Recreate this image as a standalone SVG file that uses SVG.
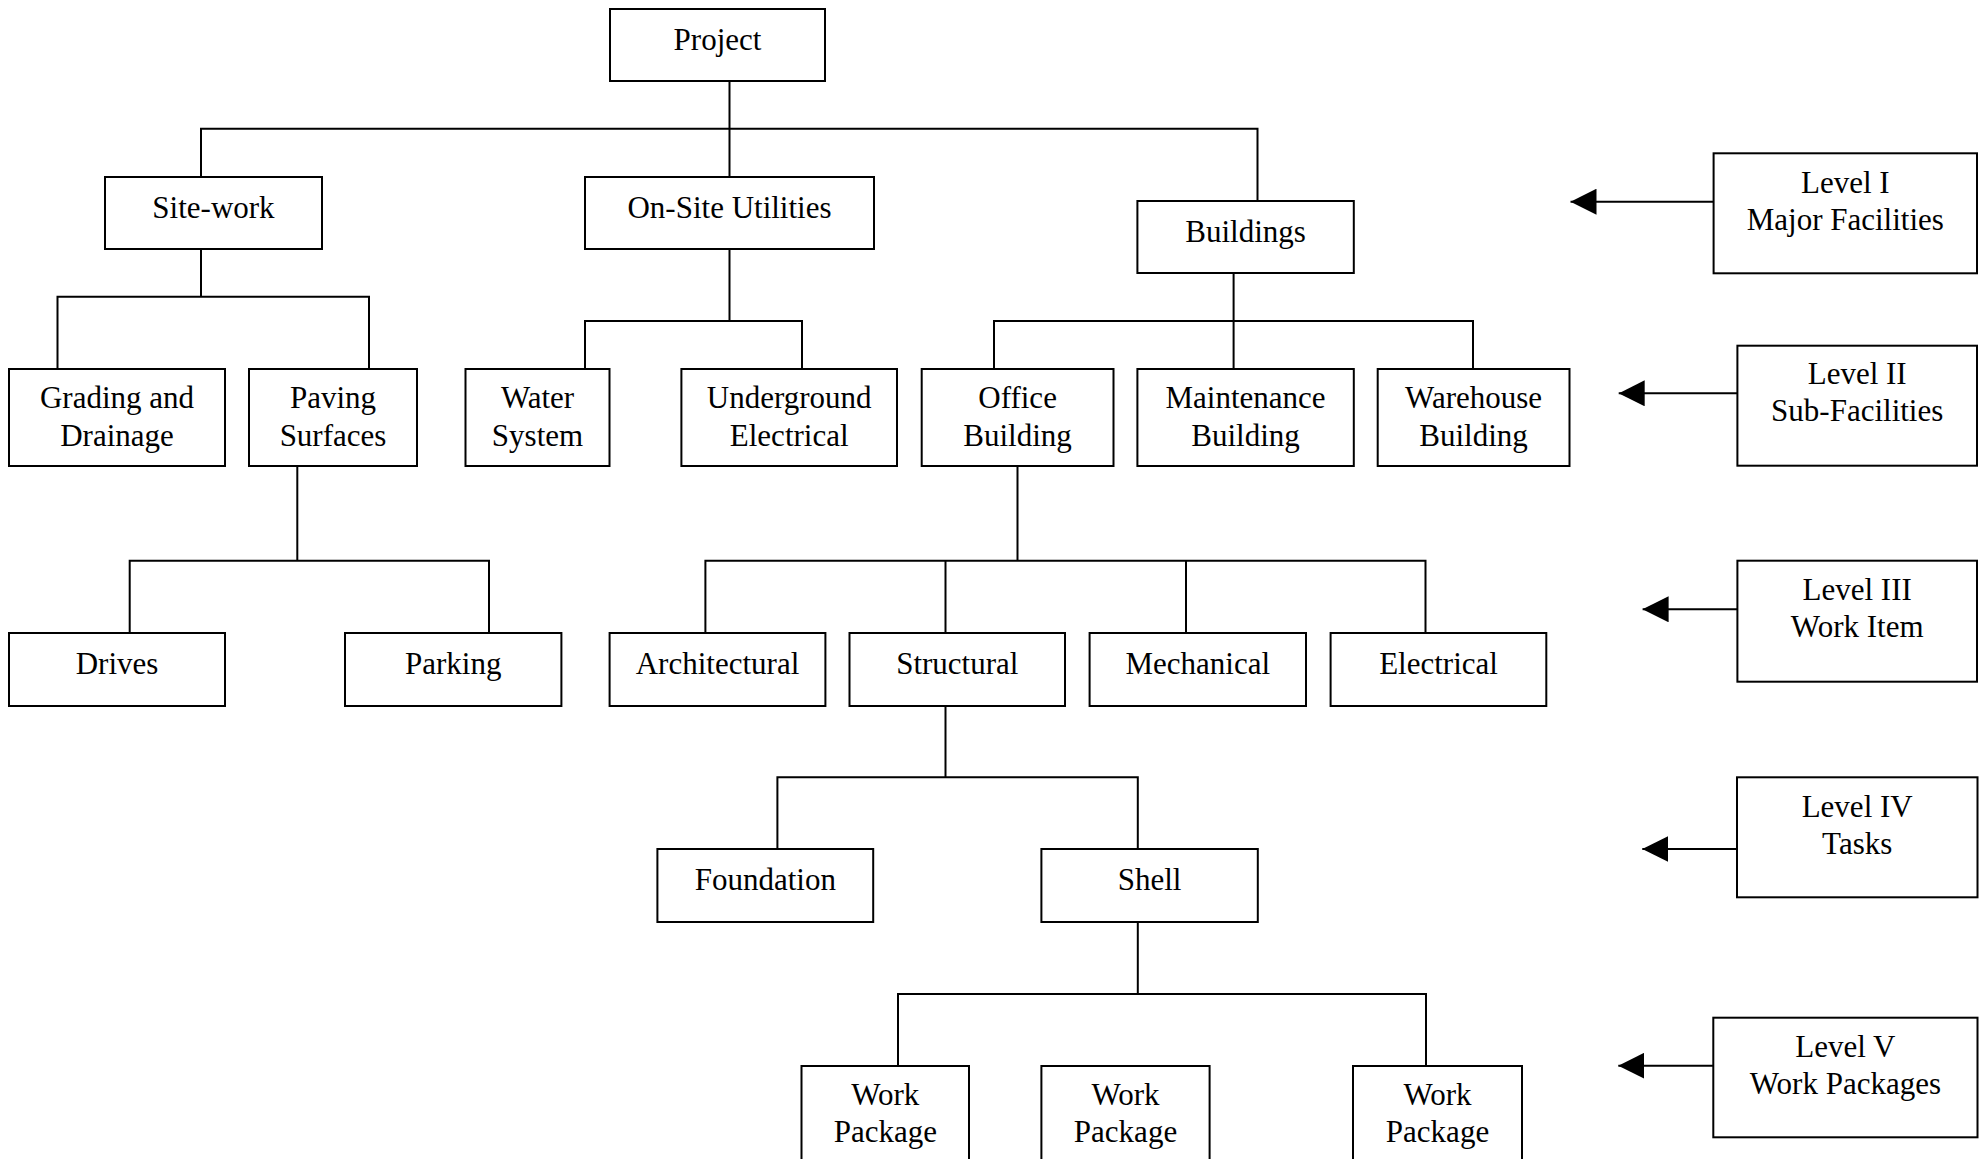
<svg xmlns="http://www.w3.org/2000/svg" width="1985" height="1159" viewBox="0 0 1985 1159">
<style>
.box{fill:#fff;stroke:#000;stroke-width:2}
.t{font-family:"Liberation Serif","Times New Roman",serif;font-size:31px;fill:#000;text-anchor:middle}
.c{fill:none;stroke:#000;stroke-width:2}
</style>
<defs>
<marker id="ah" markerUnits="userSpaceOnUse" markerWidth="26" markerHeight="26" viewBox="0 0 26 26" refX="26" refY="13" orient="auto">
<path d="M0,0 L26,13 L0,26 z" fill="#000"/>
</marker>
</defs>
<rect width="1985" height="1159" fill="#fff"/>
<g id="connectors">
<path class="c" d="M729.5,81 V177"/>
<path class="c" d="M201,177 V128.7 H1257.5 V201"/>
<path class="c" d="M201,249 V296.7"/>
<path class="c" d="M57.5,369 V296.7 H369 V369"/>
<path class="c" d="M729.5,249 V321"/>
<path class="c" d="M585,369 V321 H802 V369"/>
<path class="c" d="M1233.6,273 V369"/>
<path class="c" d="M994,369 V321 H1473 V369"/>
<path class="c" d="M297.3,466 V560.7"/>
<path class="c" d="M129.7,633 V560.7 H489 V633"/>
<path class="c" d="M1017.5,466 V560.7"/>
<path class="c" d="M705.4,633 V560.7 H1425.5 V633"/>
<path class="c" d="M945.5,560.7 V633"/>
<path class="c" d="M1186,560.7 V633"/>
<path class="c" d="M945.5,706 V777.3"/>
<path class="c" d="M777.4,849 V777.3 H1137.8 V849"/>
<path class="c" d="M1137.8,922 V994"/>
<path class="c" d="M898,1066 V994 H1426 V1066"/>
<line class="c" x1="1713.6" y1="201.7" x2="1570.5" y2="201.7" marker-end="url(#ah)"/>
<line class="c" x1="1737.4" y1="393.3" x2="1618.7" y2="393.3" marker-end="url(#ah)"/>
<line class="c" x1="1737.4" y1="609.3" x2="1642.6" y2="609.3" marker-end="url(#ah)"/>
<line class="c" x1="1737" y1="849" x2="1642.3" y2="849" marker-end="url(#ah)"/>
<line class="c" x1="1713.3" y1="1065.7" x2="1618.3" y2="1065.7" marker-end="url(#ah)"/>
</g>
<g id="project"><rect class="box" x="610" y="9" width="215" height="72"/><text class="t" x="717.5" y="50">Project</text></g>
<g id="site-work"><rect class="box" x="105" y="177" width="217" height="72"/><text class="t" x="213.5" y="218">Site-work</text></g>
<g id="on-site-utilities"><rect class="box" x="585" y="177" width="289" height="72"/><text class="t" x="729.5" y="218">On-Site Utilities</text></g>
<g id="buildings"><rect class="box" x="1137.4" y="201" width="216.4" height="72"/><text class="t" x="1245.6" y="242">Buildings</text></g>
<g id="grading"><rect class="box" x="9" y="369" width="216" height="97"/><text class="t" x="117" y="408">Grading and</text><text class="t" x="117" y="446">Drainage</text></g>
<g id="paving"><rect class="box" x="249" y="369" width="168" height="97"/><text class="t" x="333" y="408">Paving</text><text class="t" x="333" y="446">Surfaces</text></g>
<g id="water"><rect class="box" x="465.5" y="369" width="144" height="97"/><text class="t" x="537.5" y="408">Water</text><text class="t" x="537.5" y="446">System</text></g>
<g id="underground"><rect class="box" x="681.4" y="369" width="215.6" height="97"/><text class="t" x="789.2" y="408">Underground</text><text class="t" x="789.2" y="446">Electrical</text></g>
<g id="office"><rect class="box" x="921.7" y="369" width="191.8" height="97"/><text class="t" x="1017.6" y="408">Office</text><text class="t" x="1017.6" y="446">Building</text></g>
<g id="maintenance"><rect class="box" x="1137.4" y="369" width="216.4" height="97"/><text class="t" x="1245.6" y="408">Maintenance</text><text class="t" x="1245.6" y="446">Building</text></g>
<g id="warehouse"><rect class="box" x="1377.7" y="369" width="191.8" height="97"/><text class="t" x="1473.6" y="408">Warehouse</text><text class="t" x="1473.6" y="446">Building</text></g>
<g id="drives"><rect class="box" x="9" y="633" width="216" height="73"/><text class="t" x="117" y="674">Drives</text></g>
<g id="parking"><rect class="box" x="345" y="633" width="216.4" height="73"/><text class="t" x="453.2" y="674">Parking</text></g>
<g id="architectural"><rect class="box" x="609.6" y="633" width="215.8" height="73"/><text class="t" x="717.5" y="674">Architectural</text></g>
<g id="structural"><rect class="box" x="849.5" y="633" width="215.5" height="73"/><text class="t" x="957.3" y="674">Structural</text></g>
<g id="mechanical"><rect class="box" x="1089.6" y="633" width="216.4" height="73"/><text class="t" x="1197.8" y="674">Mechanical</text></g>
<g id="electrical"><rect class="box" x="1330.6" y="633" width="215.7" height="73"/><text class="t" x="1438.5" y="674">Electrical</text></g>
<g id="foundation"><rect class="box" x="657.4" y="849" width="215.8" height="73"/><text class="t" x="765.3" y="890">Foundation</text></g>
<g id="shell"><rect class="box" x="1041.4" y="849" width="216.4" height="73"/><text class="t" x="1149.6" y="890">Shell</text></g>
<g id="wp1"><rect class="box" x="801.5" y="1066" width="167.5" height="120"/><text class="t" x="885.3" y="1105">Work</text><text class="t" x="885.3" y="1142">Package</text></g>
<g id="wp2"><rect class="box" x="1041.4" y="1066" width="168.2" height="120"/><text class="t" x="1125.5" y="1105">Work</text><text class="t" x="1125.5" y="1142">Package</text></g>
<g id="wp3"><rect class="box" x="1353" y="1066" width="169" height="120"/><text class="t" x="1437.5" y="1105">Work</text><text class="t" x="1437.5" y="1142">Package</text></g>
<g id="level1"><rect class="box" x="1713.6" y="153.3" width="263.4" height="120"/><text class="t" x="1845.3" y="192.5">Level I</text><text class="t" x="1845.3" y="230">Major Facilities</text></g>
<g id="level2"><rect class="box" x="1737.4" y="345.7" width="239.6" height="120"/><text class="t" x="1857.2" y="383.5">Level II</text><text class="t" x="1857.2" y="420.5">Sub-Facilities</text></g>
<g id="level3"><rect class="box" x="1737.4" y="560.7" width="239.6" height="121"/><text class="t" x="1857.2" y="600">Level III</text><text class="t" x="1857.2" y="637">Work Item</text></g>
<g id="level4"><rect class="box" x="1737" y="777.3" width="240.5" height="120"/><text class="t" x="1857.2" y="816.5">Level IV</text><text class="t" x="1857.2" y="853.5">Tasks</text></g>
<g id="level5"><rect class="box" x="1713.3" y="1017.7" width="264.2" height="119.6"/><text class="t" x="1845.4" y="1056.5">Level V</text><text class="t" x="1845.4" y="1093.5">Work Packages</text></g>
</svg>
